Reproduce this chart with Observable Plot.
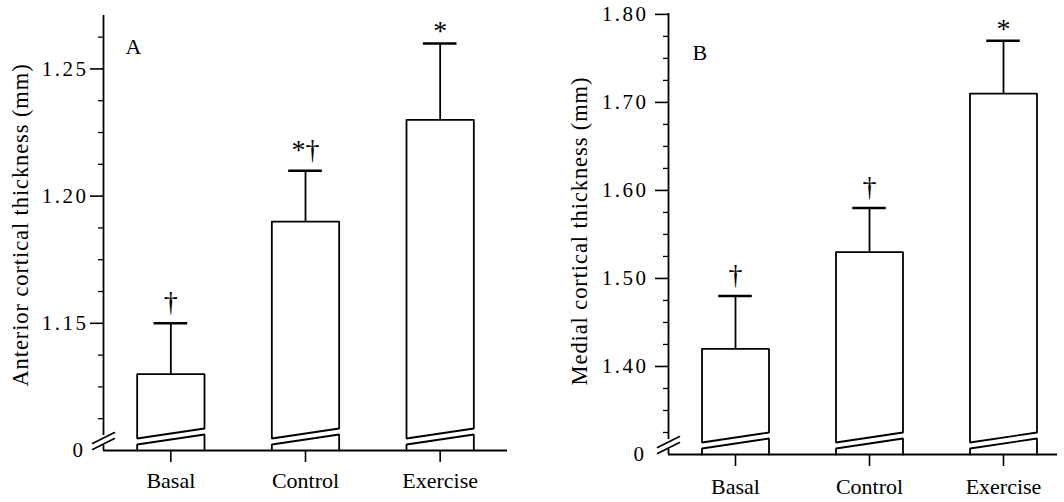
<!DOCTYPE html>
<html><head><meta charset="utf-8">
<script src="https://cdn.jsdelivr.net/npm/d3@7"></script>
<script src="https://cdn.jsdelivr.net/npm/@observablehq/plot@0.6"></script>
<style>
html,body{margin:0;padding:0;background:#fff;}
#wrap{display:flex;width:1064px;height:502px;overflow:hidden;}
svg{font-family:"Liberation Serif","Times New Roman",serif;color:#000;background:#fff;}
g[aria-label="y-axis tick label"] text{letter-spacing:2.5px;}
</style></head><body><div id="wrap"></div>
<script>
// ---- data ----
const categories = ["Basal", "Control", "Exercise"];
const anteriorMeans = [1.13, 1.19, 1.23];
const anteriorErrTops = [1.15, 1.21, 1.26];
const anteriorSig = ["†", "*†", "*"];
const anteriorTicks = [1.15, 1.20, 1.25];
const anteriorMinorTicks = [1.1125, 1.125, 1.1375, 1.1625, 1.175, 1.1875, 1.2125, 1.225, 1.2375, 1.2625];
const anteriorTitle = "Anterior cortical thickness (mm)";

const medialMeans = [1.42, 1.53, 1.71];
const medialErrTops = [1.48, 1.58, 1.77];
const medialSig = ["†", "†", "*"];
const medialTicks = [1.40, 1.50, 1.60, 1.70, 1.80];
const medialMinorTicks = [1.325, 1.35, 1.375, 1.425, 1.45, 1.475, 1.525, 1.55, 1.575, 1.625, 1.65, 1.675, 1.725, 1.75, 1.775];
const medialTitle = "Medial cortical thickness (mm)";

function panel(o) {
  const H = 502;
  const ph = H - o.marginTop - o.marginBottom;
  const k = (o.yDomain[1] - o.yDomain[0]) / ph; // data units per px
  const base = o.yDomain[0];
  const stepPx = (o.xRange[1] - o.xRange[0]) / 3;
  const half = 0.25;
  const rows = categories.map((c, i) => ({i, c, mean: o.means[i], top: o.tops[i], sig: o.sig[i]}));
  const poly = [];
  rows.forEach(r => {
    const L = r.i - half, R = r.i + half;
    [[L, r.mean], [R, r.mean], [R, base + 22 * k], [L, base + 12 * k], [L, r.mean]]
      .forEach(([x, y]) => poly.push({x, y, z: r.c + "u"}));
    [[L, base], [L, base + 6 * k], [R, base + 16 * k], [R, base]]
      .forEach(([x, y]) => poly.push({x, y, z: r.c + "l"}));
  });
  const ax = -0.5, sw = 11 / stepPx;
  const slashes = [
    {x: ax - sw, y: base + 7 * k, z: "a"}, {x: ax + sw, y: base + 18 * k, z: "a"},
    {x: ax - sw, y: base + 1 * k, z: "b"}, {x: ax + sw, y: base + 12 * k, z: "b"}
  ];
  const withDagger = d => d.sig.includes("†");
  const svg = Plot.plot({
    width: o.width, height: H,
    marginLeft: o.marginLeft, marginRight: o.marginRight,
    marginTop: o.marginTop, marginBottom: o.marginBottom,
    style: {background: "#fff", color: "#000", fontFamily: '"Liberation Serif","Times New Roman",serif'},
    x: {type: "linear", domain: [-0.5, 2.5], range: o.xRange},
    y: {domain: o.yDomain},
    marks: [
      Plot.ruleY([base], {stroke: "#000", strokeWidth: 1.8}),
      Plot.ruleX([ax], {y1: base + 15 * k, y2: o.yDomain[1], stroke: "#000", strokeWidth: 1.8}),
      Plot.ruleX([ax], {y1: base, y2: base + 5 * k, stroke: "#000", strokeWidth: 1.8}),
      Plot.line(slashes, {x: "x", y: "y", z: "z", stroke: "#000", strokeWidth: 1.6}),
      Plot.line(poly, {x: "x", y: "y", z: "z", stroke: "#000", strokeWidth: 1.8, fill: "none", strokeLinejoin: "miter"}),
      Plot.ruleX(rows, {x: "i", y1: "mean", y2: "top", stroke: "#000", strokeWidth: 1.8}),
      Plot.ruleY(rows, {y: "top", x1: d => d.i - half / 2, x2: d => d.i + half / 2, stroke: "#000", strokeWidth: 2.4}),
      Plot.text(rows, {filter: withDagger, x: "i", y: "top", text: "sig", fontSize: 28, dy: -12, lineAnchor: "bottom", fill: "#000"}),
      Plot.text(rows, {filter: d => !withDagger(d), x: "i", y: "top", text: "sig", fontSize: 28, dy: -3, lineAnchor: "bottom", fill: "#000"}),
      Plot.axisX({ticks: [0, 1, 2], tickFormat: i => categories[i], tickSize: 12, tickPadding: o.xPad, fontSize: 22, label: null, strokeWidth: 1.6}),
      Plot.axisY({ticks: o.majorTicks, tickFormat: d => d.toFixed(2), tickSize: 13, tickPadding: o.yPad, fontSize: 21, label: null, strokeWidth: 1.6}),
      Plot.axisY({ticks: [base], tickFormat: () => "0", tickSize: 0, tickPadding: o.zeroPad, fontSize: 21, label: null}),
      Plot.axisY({ticks: o.minorTicks, tickFormat: () => "", tickSize: 5, tickPadding: 0, label: null, strokeWidth: 1.3}),
      Plot.text([o.title], {frameAnchor: "left", textAnchor: "middle", rotate: -90, dx: o.titleDx, dy: o.titleDy, fontSize: 22.5, fill: "#000"}),
      Plot.text([o.letter], {frameAnchor: "top-left", textAnchor: "start", lineAnchor: "top", dx: o.letterDx, dy: o.letterDy, fontSize: 22, fill: "#000"})
    ]
  });
  svg.querySelectorAll("text").forEach(t => { if (t.textContent === o.title) t.style.letterSpacing = "0.9px"; });
  return svg;
}

const wrap = document.getElementById("wrap");
wrap.appendChild(panel({
  width: 540, marginLeft: 103, marginRight: 33, marginTop: 15, marginBottom: 52,
  xRange: [103, 507], yDomain: [1.10, 1.271],
  means: anteriorMeans, tops: anteriorErrTops, sig: anteriorSig,
  majorTicks: anteriorTicks, minorTicks: anteriorMinorTicks,
  title: anteriorTitle, titleDx: -83, titleDy: -8, letter: "A", letterDx: 22, letterDy: 23,
  yPad: 2, zeroPad: 18, xPad: 10
}));
wrap.appendChild(panel({
  width: 524, marginLeft: 128, marginRight: 7, marginTop: 13, marginBottom: 48,
  xRange: [128, 530], yDomain: [1.30, 1.801],
  means: medialMeans, tops: medialErrTops, sig: medialSig,
  majorTicks: medialTicks, minorTicks: medialMinorTicks,
  title: medialTitle, titleDx: -89, titleDy: -3, letter: "B", letterDx: 24, letterDy: 31,
  yPad: 7, zeroPad: 22, xPad: 12
}));
</script></body></html>
